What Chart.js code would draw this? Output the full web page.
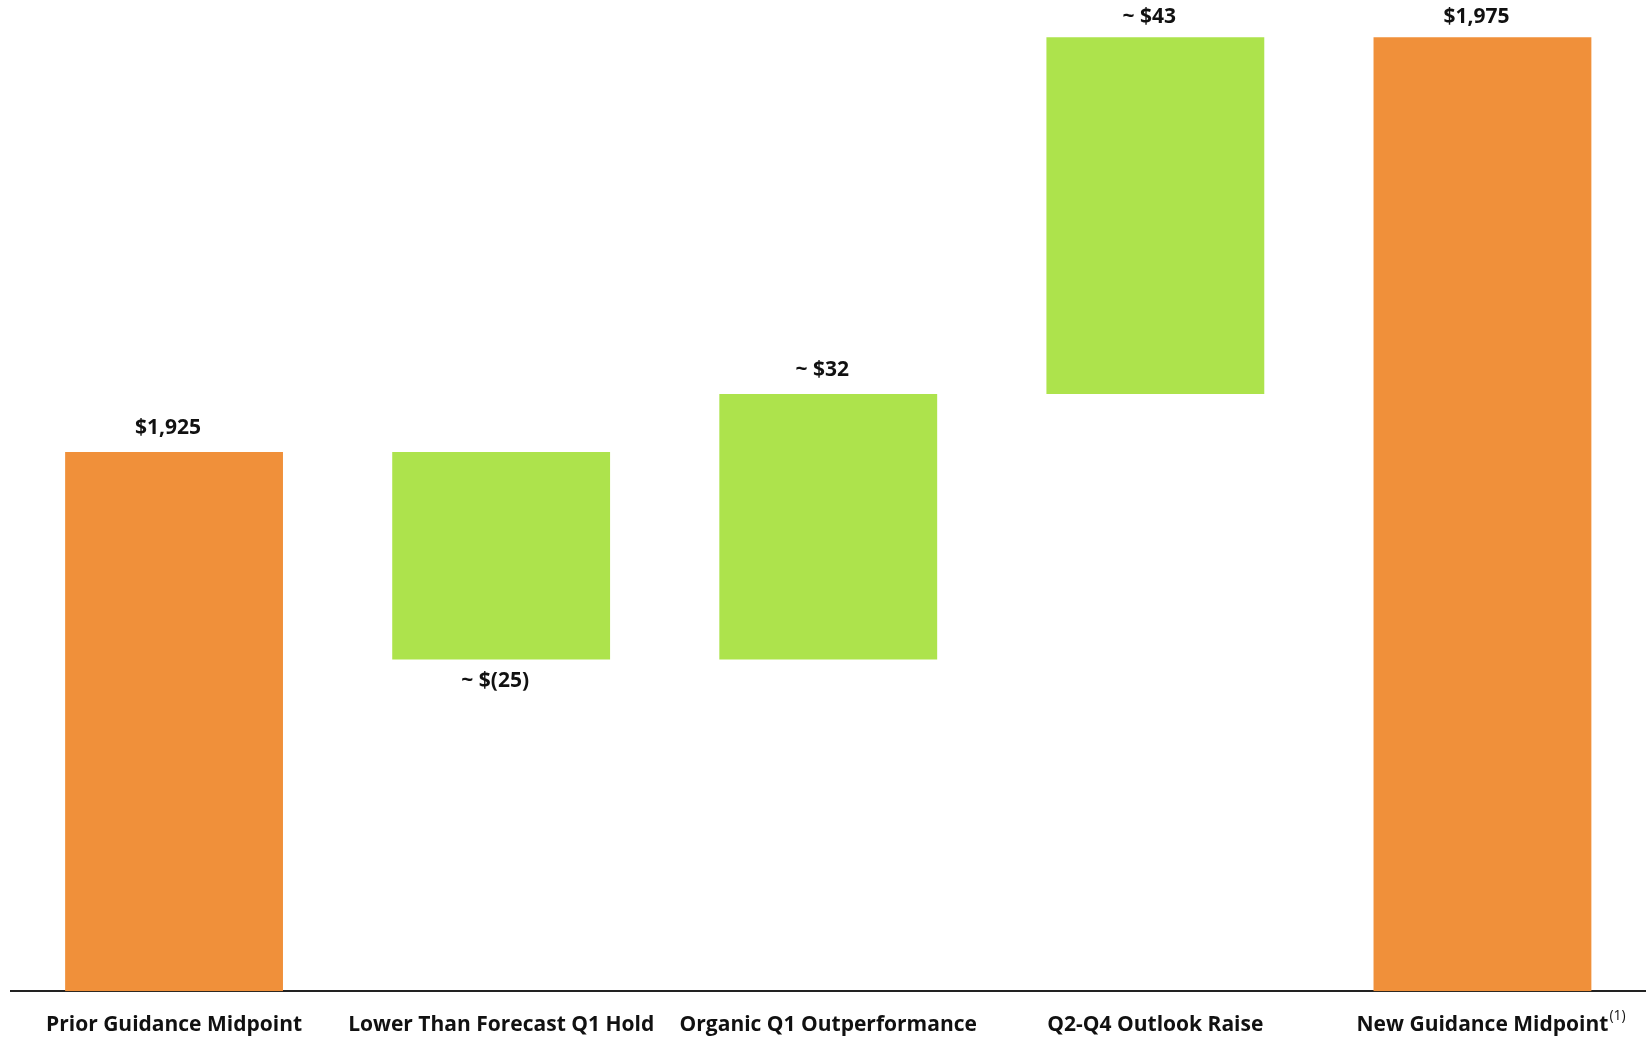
<!DOCTYPE html>
<html>
<head>
<meta charset="utf-8">
<script src="https://cdn.jsdelivr.net/npm/chart.js@4/dist/chart.umd.min.js"></script>
<style>
  html, body { margin: 0; padding: 0; background: #fff; }
  #wrap { width: 1646px; height: 1037px; }
</style>
</head>
<body>
<div id="wrap"><canvas id="waterfall" width="1646" height="1037"></canvas></div>
<script>
const categories = ['Prior Guidance Midpoint', 'Lower Than Forecast Q1 Hold', 'Organic Q1 Outperformance', 'Q2-Q4 Outlook Raise', 'New Guidance Midpoint'];
const steps = [1925, -25, 32, 43, 1975];
const isTotal = [true, false, false, false, true];
const valueLabels = ['$1,925', '~ $(25)', '~ $32', '~ $43', '$1,975'];
const footnotes = ['', '', '', '', '(1)'];
const axisMin = 1860;
const axisMax = 1979.5;

const totalColor = '#F0903A';
const stepColor = '#ADE34C';
const textColor = '#111111';
const labelFont = 'bold 21px "Open Sans"';

// totals start at the axis floor, steps float from the running total
let running = 0;
const ranges = steps.map((v, i) => {
  if (isTotal[i]) {
    running = v;
    return [axisMin, v];
  }
  const start = running;
  running += v;
  return [start, running];
});

const valueLabelPlugin = {
  id: 'valueLabels',
  afterDatasetsDraw(chart) {
    const ctx = chart.ctx;
    const meta = chart.getDatasetMeta(0);
    ctx.save();
    ctx.font = labelFont;
    ctx.fillStyle = textColor;
    ctx.textAlign = 'center';
    ctx.textBaseline = 'middle';
    meta.data.forEach((bar, i) => {
      const top = Math.min(bar.y, bar.base);
      const bottom = Math.max(bar.y, bar.base);
      let y = steps[i] < 0 ? bottom + 22 : top - 24;
      y = Math.max(y, 17);
      ctx.fillText(valueLabels[i], bar.x - 6, y);
    });
    ctx.restore();
  },
  afterDraw(chart) {
    const ctx = chart.ctx;
    const xs = chart.scales.x;
    ctx.save();
    footnotes.forEach((note, i) => {
      if (!note) return;
      ctx.font = labelFont;
      const w = ctx.measureText(categories[i]).width;
      const x = xs.getPixelForTick(i) + w / 2 + 1;
      ctx.font = '14px "Open Sans"';
      ctx.fillStyle = textColor;
      ctx.textAlign = 'left';
      ctx.textBaseline = 'middle';
      ctx.fillText(note, x, xs.top + 25);
    });
    ctx.restore();
  }
};

new Chart(document.getElementById('waterfall'), {
  type: 'bar',
  data: {
    labels: categories,
    datasets: [{
      data: ranges,
      backgroundColor: isTotal.map(t => t ? totalColor : stepColor),
      borderWidth: 0,
      borderSkipped: false,
      categoryPercentage: 1,
      barPercentage: 0.666
    }]
  },
  options: {
    responsive: false,
    devicePixelRatio: 1,
    animation: false,
    layout: {
      padding: { left: 10.5, right: 0, top: 0, bottom: -21.5 }
    },
    plugins: {
      legend: { display: false },
      tooltip: { enabled: false }
    },
    scales: {
      x: {
        grid: { display: false, drawTicks: false },
        border: { display: true, color: '#222222', width: 2 },
        ticks: {
          color: textColor,
          font: { family: 'Open Sans', size: 21, weight: 'bold' },
          padding: 21,
          maxRotation: 0,
          autoSkip: false
        }
      },
      y: {
        display: false,
        min: axisMin,
        max: axisMax
      }
    }
  },
  plugins: [valueLabelPlugin]
});
</script>
</body>
</html>
